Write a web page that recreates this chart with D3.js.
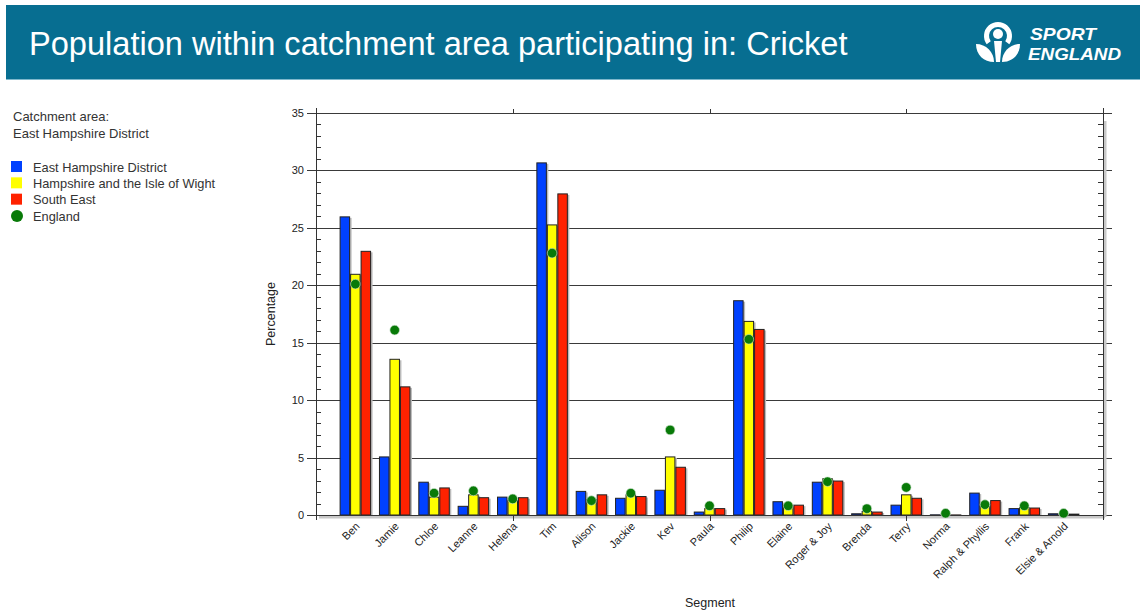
<!DOCTYPE html>
<html>
<head>
<meta charset="utf-8">
<script src="https://cdn.jsdelivr.net/npm/d3@7"></script>
<style>
  body { margin: 0; background: #fff; }
  text { font-family: "Liberation Sans", Arial, sans-serif; }
</style>
</head>
<body>
<div id="chart"></div>
<script>
// segments and the four series (percent participating)
const segments = ["Ben", "Jamie", "Chloe", "Leanne", "Helena", "Tim", "Alison", "Jackie", "Kev", "Paula",
  "Philip", "Elaine", "Roger & Joy", "Brenda", "Terry", "Norma", "Ralph & Phyllis", "Frank", "Elsie & Arnold"];
const eastHampshire = [26.0, 5.1, 2.9, 0.8, 1.6, 30.7, 2.1, 1.5, 2.2, 0.3, 18.7, 1.2, 2.9, 0.15, 0.9, 0.06, 1.95, 0.6, 0.15];
const hampshireIoW = [21.0, 13.6, 1.6, 1.8, 1.3, 25.3, 1.4, 1.8, 5.1, 0.6, 16.9, 0.9, 3.2, 0.35, 1.8, 0.05, 0.8, 0.7, 0.05];
const southEast = [23.0, 11.2, 2.4, 1.55, 1.55, 28.0, 1.8, 1.65, 4.2, 0.6, 16.2, 0.9, 3.0, 0.3, 1.5, 0.05, 1.3, 0.65, 0.12];
const england = [20.1, 16.1, 1.9, 2.1, 1.4, 22.8, 1.25, 1.9, 7.4, 0.8, 15.3, 0.8, 2.9, 0.55, 2.4, 0.15, 0.9, 0.8, 0.15];
const yTicks = [0, 5, 10, 15, 20, 25, 30, 35];

const seriesNames = ["East Hampshire District", "Hampshire and the Isle of Wight", "South East"];
const seriesColors = ["#0041ff", "#ffff00", "#ff2200"];
const dotColor = "#087a08";

const width = 1140, height = 613;
const plot = {left: 316, right: 1103, top: 113, bottom: 515};

const svg = d3.select("#chart").append("svg")
  .attr("width", width).attr("height", height);

// header band
svg.append("rect").attr("x", 6).attr("y", 5).attr("width", width - 6).attr("height", 74)
  .attr("fill", "#076e91");
svg.append("line").attr("x1", 6).attr("x2", width).attr("y1", 79.5).attr("y2", 79.5)
  .attr("stroke", "#7fb8cc");
svg.append("text").attr("x", 29).attr("y", 55)
  .attr("fill", "#fff").attr("font-size", 32.6)
  .text("Population within catchment area participating in: Cricket");

// logo (rough)
const logo = svg.append("g").attr("fill", "#fff");
logo.append("path")
  .attr("d", d3.arc().innerRadius(9).outerRadius(14).startAngle(-2.2).endAngle(2.2)())
  .attr("transform", "translate(998,36)");
logo.append("circle").attr("cx", 998).attr("cy", 34).attr("r", 5);
logo.append("path").attr("d", "M994,41 L1002,41 L1000,62 L996,62 Z");
logo.append("path").attr("d", "M976,44 C986,44 994,52 994,62 C984,62 976,55 976,44 Z");
logo.append("path").attr("d", "M1020,44 C1010,44 1002,52 1002,62 C1012,62 1020,55 1020,44 Z");
svg.append("text").attr("x", 1030).attr("y", 40).attr("fill", "#fff")
  .attr("font-size", 17).attr("font-weight", "bold").attr("font-style", "italic")
  .attr("textLength", 66).attr("lengthAdjust", "spacingAndGlyphs").text("SPORT");
svg.append("text").attr("x", 1028).attr("y", 60).attr("fill", "#fff")
  .attr("font-size", 17).attr("font-weight", "bold").attr("font-style", "italic")
  .attr("textLength", 93).attr("lengthAdjust", "spacingAndGlyphs").text("ENGLAND");

// catchment text + legend
svg.append("text").attr("x", 13).attr("y", 121).attr("font-size", 13).attr("fill", "#333").text("Catchment  area:");
svg.append("text").attr("x", 13).attr("y", 138).attr("font-size", 13).attr("fill", "#333").text("East  Hampshire  District");
const legendY = d3.scalePoint().domain(d3.range(4)).range([167, 216]);
seriesNames.forEach((n, i) => {
  svg.append("rect").attr("x", 11).attr("y", legendY(i) - 6).attr("width", 11).attr("height", 11)
    .attr("fill", seriesColors[i]);
  svg.append("text").attr("x", 33).attr("y", legendY(i) + 4.5).attr("font-size", 12.8).attr("fill", "#333").text(n);
});
svg.append("circle").attr("cx", 17).attr("cy", legendY(3)).attr("r", 6).attr("fill", dotColor);
svg.append("text").attr("x", 33).attr("y", legendY(3) + 4.5).attr("font-size", 12.8).attr("fill", "#333").text("England");

// scales
const y = d3.scaleLinear().domain([0, 35]).range([plot.bottom, plot.top]);
const x = d3.scaleBand().domain(segments).range([plot.left, plot.right])
  .paddingInner(0.2).paddingOuter(0.6);
const xs = d3.scaleBand().domain(d3.range(3)).range([0, x.bandwidth()]);
const xq = d3.scaleLinear().domain([0, 4]).range([plot.left, plot.right]);

// gridlines (major ticks stick out both sides)
svg.append("g").selectAll("line").data(yTicks).join("line")
  .attr("x1", plot.left - 9).attr("x2", plot.right + 9)
  .attr("y1", d => Math.round(y(d)) + 0.5).attr("y2", d => Math.round(y(d)) + 0.5)
  .attr("stroke", "#3a3a3a");

// minor ticks inside, left and right
const minor = d3.range(0, 35).filter(d => d % 5 !== 0);
svg.append("g").selectAll("line").data(minor).join("line")
  .attr("x1", plot.left).attr("x2", plot.left + 5)
  .attr("y1", d => Math.round(y(d)) + 0.5).attr("y2", d => Math.round(y(d)) + 0.5)
  .attr("stroke", "#333");
svg.append("g").selectAll("line").data(minor).join("line")
  .attr("x1", plot.right - 5).attr("x2", plot.right)
  .attr("y1", d => Math.round(y(d)) + 0.5).attr("y2", d => Math.round(y(d)) + 0.5)
  .attr("stroke", "#333");

// y tick labels
svg.append("g").selectAll("text").data(yTicks).join("text")
  .attr("x", plot.left - 12).attr("y", d => y(d) + 4)
  .attr("text-anchor", "end").attr("font-size", 11).attr("fill", "#222").text(d => d);

// bars
const groups = svg.append("g").selectAll("g").data(segments).join("g")
  .attr("transform", d => `translate(${x(d)},0)`);
const seriesData = [eastHampshire, hampshireIoW, southEast];
seriesData.forEach((vals, s) => {
  groups.append("rect")
    .attr("x", (d, i) => xs(s) + 1.5).attr("y", (d, i) => y(vals[i]) + 1.5)
    .attr("width", xs.bandwidth()).attr("height", (d, i) => y(0) - y(vals[i]))
    .attr("fill", "#bbb");
  groups.append("rect")
    .attr("x", (d, i) => xs(s) + 0.5).attr("y", (d, i) => y(vals[i]) + 0.5)
    .attr("width", xs.bandwidth() - 1).attr("height", (d, i) => Math.max(0, y(0) - y(vals[i]) - 0.5))
    .attr("fill", seriesColors[s]).attr("stroke", "#222").attr("stroke-width", 1);
});

// axis frame with shadows
svg.append("line").attr("x1", plot.right + 2).attr("x2", plot.right + 2)
  .attr("y1", plot.top + 8).attr("y2", plot.bottom + 2).attr("stroke", "#c8c8c8").attr("stroke-width", 3);
svg.append("line").attr("x1", plot.left + 3).attr("x2", plot.right + 2)
  .attr("y1", plot.bottom + 2).attr("y2", plot.bottom + 2).attr("stroke", "#c8c8c8").attr("stroke-width", 3);
svg.append("line").attr("x1", plot.left + 0.5).attr("x2", plot.left + 0.5)
  .attr("y1", plot.top - 5).attr("y2", plot.bottom + 5).attr("stroke", "#333");
svg.append("line").attr("x1", plot.right + 0.5).attr("x2", plot.right + 0.5)
  .attr("y1", plot.top - 5).attr("y2", plot.bottom + 5).attr("stroke", "#333");
svg.append("line").attr("x1", plot.left).attr("x2", plot.right)
  .attr("y1", plot.bottom + 0.5).attr("y2", plot.bottom + 0.5).attr("stroke", "#333");

// x quarter ticks top and bottom
const q = [1, 2, 3];
svg.append("g").selectAll("line").data(q).join("line")
  .attr("x1", d => Math.round(xq(d)) + 0.5).attr("x2", d => Math.round(xq(d)) + 0.5)
  .attr("y1", plot.bottom).attr("y2", plot.bottom + 6).attr("stroke", "#333");
svg.append("g").selectAll("line").data(q).join("line")
  .attr("x1", d => Math.round(xq(d)) + 0.5).attr("x2", d => Math.round(xq(d)) + 0.5)
  .attr("y1", plot.top - 4).attr("y2", plot.top).attr("stroke", "#333");

// England dots
svg.append("g").selectAll("circle").data(segments).join("circle")
  .attr("cx", d => x(d) + xs(1) + xs.bandwidth() / 2)
  .attr("cy", (d, i) => y(england[i]))
  .attr("r", 4.8).attr("fill", dotColor).attr("stroke", "#cfe3cf").attr("stroke-width", 0.6);

// x labels
svg.append("g").selectAll("text").data(segments).join("text")
  .attr("transform", d => `translate(${x(d) + x.bandwidth() / 2 + 5},527) rotate(-45)`)
  .attr("text-anchor", "end").attr("font-size", 11).attr("fill", "#222").text(d => d);

// axis titles
svg.append("text").attr("transform", "translate(275,314) rotate(-90)")
  .attr("text-anchor", "middle").attr("font-size", 12.5).attr("fill", "#222").text("Percentage");
svg.append("text").attr("x", 710).attr("y", 607)
  .attr("text-anchor", "middle").attr("font-size", 12.5).attr("fill", "#222").text("Segment");
</script>
</body>
</html>
